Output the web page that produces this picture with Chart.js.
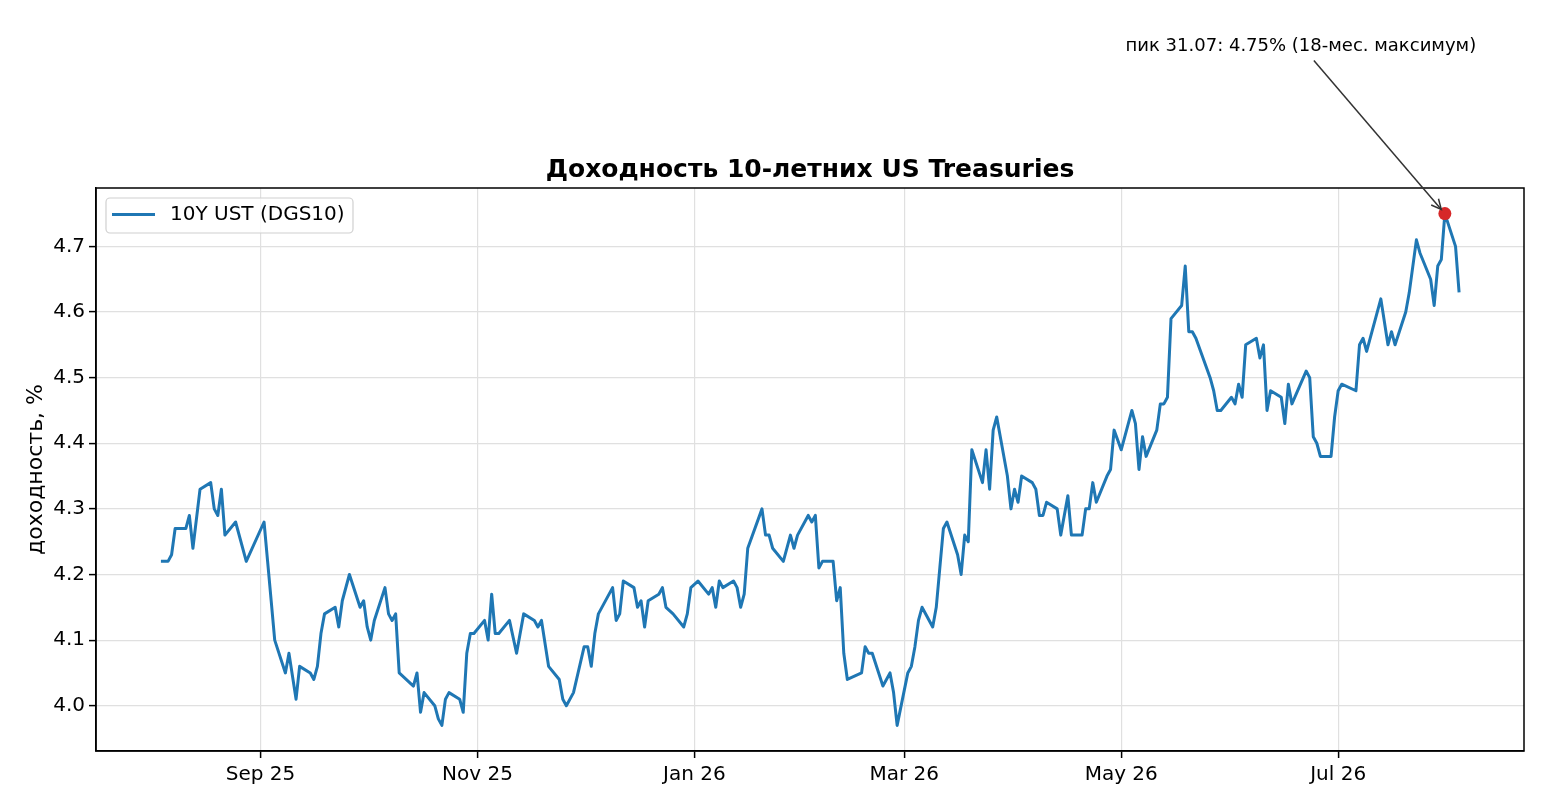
<!DOCTYPE html>
<html>
<head>
<meta charset="utf-8">
<script src="https://cdn.jsdelivr.net/npm/chart.js@4/dist/chart.umd.min.js"></script>
<style>
  html, body { margin: 0; padding: 0; background: #fff; }
  #wrap { width: 1560px; height: 806px; }
</style>
</head>
<body>
<div id="wrap"><canvas id="c" width="1560" height="806"></canvas></div>
<script>
// ---------- data ----------
const dates = [
  "2025-08-04","2025-08-06","2025-08-07","2025-08-08","2025-08-11","2025-08-12","2025-08-13","2025-08-15",
  "2025-08-18","2025-08-19","2025-08-20","2025-08-21","2025-08-22","2025-08-25","2025-08-28",
  "2025-09-02","2025-09-03","2025-09-04","2025-09-05","2025-09-08","2025-09-09","2025-09-11","2025-09-12",
  "2025-09-15","2025-09-16","2025-09-17","2025-09-18","2025-09-19","2025-09-22","2025-09-23","2025-09-24",
  "2025-09-26","2025-09-29","2025-09-30",
  "2025-10-01","2025-10-02","2025-10-03","2025-10-06","2025-10-07","2025-10-08","2025-10-09","2025-10-10",
  "2025-10-14","2025-10-15","2025-10-16","2025-10-17","2025-10-20","2025-10-21","2025-10-22","2025-10-23",
  "2025-10-24","2025-10-27","2025-10-28","2025-10-29","2025-10-30","2025-10-31",
  "2025-11-03","2025-11-04","2025-11-05","2025-11-06","2025-11-07","2025-11-10","2025-11-12","2025-11-14",
  "2025-11-17","2025-11-18","2025-11-19","2025-11-21","2025-11-24","2025-11-25","2025-11-26","2025-11-28",
  "2025-12-01","2025-12-02","2025-12-03","2025-12-04","2025-12-05","2025-12-09","2025-12-10","2025-12-11",
  "2025-12-12","2025-12-15","2025-12-16","2025-12-17","2025-12-18","2025-12-19","2025-12-22","2025-12-23",
  "2025-12-24","2025-12-26","2025-12-29","2025-12-30","2025-12-31",
  "2026-01-02","2026-01-05","2026-01-06","2026-01-07","2026-01-08","2026-01-09","2026-01-12","2026-01-13",
  "2026-01-14","2026-01-15","2026-01-16","2026-01-20","2026-01-21","2026-01-22","2026-01-23","2026-01-26",
  "2026-01-28","2026-01-29","2026-01-30",
  "2026-02-02","2026-02-03","2026-02-04","2026-02-05","2026-02-06","2026-02-09","2026-02-10","2026-02-11",
  "2026-02-12","2026-02-13","2026-02-17","2026-02-18","2026-02-19","2026-02-20","2026-02-23","2026-02-25",
  "2026-02-26","2026-02-27",
  "2026-03-02","2026-03-03","2026-03-04","2026-03-05","2026-03-06","2026-03-09","2026-03-10","2026-03-11",
  "2026-03-12","2026-03-13","2026-03-16","2026-03-17","2026-03-18","2026-03-19","2026-03-20","2026-03-23",
  "2026-03-24","2026-03-25","2026-03-26","2026-03-27","2026-03-30","2026-03-31",
  "2026-04-01","2026-04-02","2026-04-03","2026-04-06","2026-04-07","2026-04-08","2026-04-09","2026-04-10",
  "2026-04-13","2026-04-14","2026-04-16","2026-04-17","2026-04-20","2026-04-21","2026-04-22","2026-04-23",
  "2026-04-24","2026-04-27","2026-04-28","2026-04-29",
  "2026-05-01","2026-05-04","2026-05-05","2026-05-06","2026-05-07","2026-05-08","2026-05-11","2026-05-12",
  "2026-05-13","2026-05-14","2026-05-15","2026-05-18","2026-05-19","2026-05-20","2026-05-21","2026-05-22",
  "2026-05-26","2026-05-27","2026-05-28","2026-05-29",
  "2026-06-01","2026-06-02","2026-06-03","2026-06-04","2026-06-05","2026-06-08","2026-06-09","2026-06-10",
  "2026-06-11","2026-06-12","2026-06-15","2026-06-16","2026-06-17","2026-06-18","2026-06-22","2026-06-23",
  "2026-06-24","2026-06-25","2026-06-26","2026-06-29","2026-06-30",
  "2026-07-01","2026-07-02","2026-07-06","2026-07-07","2026-07-08","2026-07-09","2026-07-13","2026-07-15",
  "2026-07-16","2026-07-17","2026-07-20","2026-07-21","2026-07-23","2026-07-24","2026-07-27","2026-07-28",
  "2026-07-29","2026-07-30","2026-07-31","2026-08-03","2026-08-04"
];
const yields = [
  4.22,4.22,4.23,4.27,4.27,4.29,4.24,4.33,
  4.34,4.30,4.29,4.33,4.26,4.28,4.22,
  4.28,4.22,4.16,4.10,4.05,4.08,4.01,4.06,
  4.05,4.04,4.06,4.11,4.14,4.15,4.12,4.16,
  4.20,4.15,4.16,
  4.12,4.10,4.13,4.18,4.14,4.13,4.14,4.05,
  4.03,4.05,3.99,4.02,4.00,3.98,3.97,4.01,
  4.02,4.01,3.99,4.08,4.11,4.11,
  4.13,4.10,4.17,4.11,4.11,4.13,4.08,4.14,
  4.13,4.12,4.13,4.06,4.04,4.01,4.00,4.02,
  4.09,4.09,4.06,4.11,4.14,4.18,4.13,4.14,
  4.19,4.18,4.15,4.16,4.12,4.16,4.17,4.18,
  4.15,4.14,4.12,4.14,4.18,
  4.19,4.17,4.18,4.15,4.19,4.18,4.19,4.18,
  4.15,4.17,4.24,4.30,4.26,4.26,4.24,4.22,
  4.26,4.24,4.26,
  4.29,4.28,4.29,4.21,4.22,4.22,4.16,4.18,
  4.08,4.04,4.05,4.09,4.08,4.08,4.03,4.05,
  4.02,3.97,
  4.05,4.06,4.09,4.13,4.15,4.12,4.15,4.21,
  4.27,4.28,4.23,4.20,4.26,4.25,4.39,4.34,
  4.39,4.33,4.42,4.44,4.35,4.30,
  4.33,4.31,4.35,4.34,4.33,4.29,4.29,4.31,
  4.30,4.26,4.32,4.26,4.26,4.30,4.30,4.34,
  4.31,4.35,4.36,4.42,
  4.39,4.45,4.43,4.36,4.41,4.38,4.42,4.46,
  4.46,4.47,4.59,4.61,4.67,4.57,4.57,4.56,
  4.50,4.48,4.45,4.45,
  4.47,4.46,4.49,4.47,4.55,4.56,4.53,4.55,
  4.45,4.48,4.47,4.43,4.49,4.46,4.51,4.50,
  4.41,4.40,4.38,4.38,4.44,
  4.48,4.49,4.48,4.55,4.56,4.54,4.62,4.55,
  4.57,4.55,4.60,4.63,4.71,4.69,4.65,4.61,
  4.67,4.68,4.75,4.70,4.63
];
const xTickDates  = ["2025-09-01","2025-11-01","2026-01-01","2026-03-01","2026-05-01","2026-07-01"];
const xTickLabels = ["Sep 25","Nov 25","Jan 26","Mar 26","May 26","Jul 26"];
const yTicks = [4.0, 4.1, 4.2, 4.3, 4.4, 4.5, 4.6, 4.7];
const seriesLabel = "10Y UST (DGS10)";
const titleText = "Доходность 10-летних US Treasuries";
const yAxisLabel = "доходность, %";
const peakNote = "18-мес. максимум";

// ---------- helpers ----------
const toDay = s => { const [y,m,d] = s.split('-').map(Number); return Date.UTC(y, m-1, d) / 86400000; };
const pts = dates.map((d, i) => ({ x: toDay(d), y: yields[i] }));
const xs = pts.map(p => p.x), ys = pts.map(p => p.y);
const xMin0 = Math.min(...xs), xMax0 = Math.max(...xs);
const yMin0 = Math.min(...ys), yMax0 = Math.max(...ys);
const xPad = (xMax0 - xMin0) * 0.05, yPad = (yMax0 - yMin0) * 0.05;
let peakIdx = 0; ys.forEach((v, i) => { if (v > ys[peakIdx]) peakIdx = i; });
const peakPt = pts[peakIdx];
const [, pm, pd] = dates[peakIdx].split('-');
const annText = `пик ${pd}.${pm}: ${yields[peakIdx].toFixed(2)}% (${peakNote})`;
const tickDays = xTickDates.map(toDay);

const FONT = "'DejaVu Sans', sans-serif";

const decor = {
  id: 'decor',
  afterDatasetsDraw(chart) {
    const { ctx, chartArea: a } = chart;
    ctx.save();
    ctx.strokeStyle = '#000';
    ctx.lineWidth = 1.5;
    ctx.strokeRect(a.left, a.top, a.right - a.left, a.bottom - a.top);
    ctx.restore();
  },
  afterDraw(chart) {
    const { ctx, chartArea: a, scales } = chart;
    ctx.save();
    // title
    ctx.fillStyle = '#000';
    ctx.font = `bold 25px ${FONT}`;
    ctx.textAlign = 'center';
    ctx.textBaseline = 'alphabetic';
    ctx.fillText(titleText, (a.left + a.right) / 2, a.top - 11);
    // y label
    ctx.save();
    ctx.translate(42, (a.top + a.bottom) / 2);
    ctx.rotate(-Math.PI / 2);
    ctx.font = `22px ${FONT}`;
    ctx.textAlign = 'center';
    ctx.textBaseline = 'alphabetic';
    ctx.fillText(yAxisLabel, 0, 0);
    ctx.restore();
    // legend
    const lx = a.left + 10, ly = a.top + 10, lw = 247, lh = 35, r = 4;
    ctx.beginPath();
    ctx.moveTo(lx + r, ly);
    ctx.arcTo(lx + lw, ly, lx + lw, ly + lh, r);
    ctx.arcTo(lx + lw, ly + lh, lx, ly + lh, r);
    ctx.arcTo(lx, ly + lh, lx, ly, r);
    ctx.arcTo(lx, ly, lx + lw, ly, r);
    ctx.closePath();
    ctx.fillStyle = 'rgba(255,255,255,0.8)';
    ctx.fill();
    ctx.strokeStyle = '#d0d0d0';
    ctx.lineWidth = 1.2;
    ctx.stroke();
    ctx.beginPath();
    ctx.moveTo(lx + 6, ly + 16.5);
    ctx.lineTo(lx + 49, ly + 16.5);
    ctx.strokeStyle = '#1f77b4';
    ctx.lineWidth = 3;
    ctx.stroke();
    ctx.fillStyle = '#000';
    ctx.font = `20px ${FONT}`;
    ctx.textAlign = 'left';
    ctx.textBaseline = 'middle';
    ctx.fillText(seriesLabel, lx + 64, ly + 17);
    // annotation
    const px = scales.x.getPixelForValue(peakPt.x);
    const py = scales.y.getPixelForValue(peakPt.y);
    ctx.font = `18px ${FONT}`;
    ctx.textAlign = 'center';
    ctx.textBaseline = 'alphabetic';
    ctx.fillText(annText, px - 144, py - 163);
    const sx = px - 131, sy = py - 153;
    const dx = px - sx, dy = py - sy, L = Math.hypot(dx, dy);
    const ux = dx / L, uy = dy / L;
    const tx = px - ux * 5.5, ty = py - uy * 5.5;
    ctx.strokeStyle = '#333';
    ctx.lineWidth = 1.5;
    ctx.beginPath();
    ctx.moveTo(sx, sy);
    ctx.lineTo(tx, ty);
    ctx.stroke();
    const hl = 11, ha = 0.45;
    const ang = Math.atan2(uy, ux);
    ctx.beginPath();
    ctx.moveTo(tx - hl * Math.cos(ang - ha), ty - hl * Math.sin(ang - ha));
    ctx.lineTo(tx, ty);
    ctx.lineTo(tx - hl * Math.cos(ang + ha), ty - hl * Math.sin(ang + ha));
    ctx.stroke();
    ctx.restore();
  }
};

new Chart(document.getElementById('c'), {
  type: 'line',
  data: {
    datasets: [
      {
        label: 'peak',
        data: [peakPt],
        showLine: false,
        pointRadius: 6.5,
        pointHoverRadius: 6.5,
        pointBackgroundColor: '#d62728',
        pointBorderColor: '#d62728',
        pointBorderWidth: 0,
        order: 0,
        clip: false
      },
      {
        label: seriesLabel,
        data: pts,
        borderColor: '#1f77b4',
        borderWidth: 3,
        pointRadius: 0,
        tension: 0,
        fill: false,
        borderJoinStyle: 'round',
        borderCapStyle: 'butt',
        order: 1
      }
    ]
  },
  options: {
    responsive: false,
    devicePixelRatio: 1,
    animation: false,
    events: [],
    layout: { padding: { top: 188, right: 36, left: 0, bottom: 0 } },
    plugins: { legend: { display: false }, title: { display: false }, tooltip: { enabled: false } },
    scales: {
      x: {
        type: 'linear',
        min: xMin0 - xPad,
        max: xMax0 + xPad,
        afterBuildTicks: s => { s.ticks = tickDays.map(v => ({ value: v })); },
        afterFit: s => { s.height = 55; },
        ticks: {
          autoSkip: false, maxRotation: 0, padding: 5,
          color: '#000', font: { family: FONT, size: 20 },
          callback: v => { const i = tickDays.indexOf(v); return i >= 0 ? xTickLabels[i] : ''; }
        },
        grid: { color: '#e0e0e0', lineWidth: 1.2, tickColor: '#000', tickLength: 7, tickWidth: 1.5 },
        border: { display: true, color: '#000', width: 1.5 }
      },
      y: {
        type: 'linear',
        min: yMin0 - yPad,
        max: yMax0 + yPad,
        afterBuildTicks: s => { s.ticks = yTicks.map(v => ({ value: v })); },
        afterFit: s => { s.width = 96; },
        ticks: {
          padding: 4,
          color: '#000', font: { family: FONT, size: 20 },
          callback: v => Number(v).toFixed(1)
        },
        grid: { color: '#e0e0e0', lineWidth: 1.2, tickColor: '#000', tickLength: 7, tickWidth: 1.5 },
        border: { display: true, color: '#000', width: 1.5 }
      }
    }
  },
  plugins: [decor]
});
</script>
</body>
</html>
